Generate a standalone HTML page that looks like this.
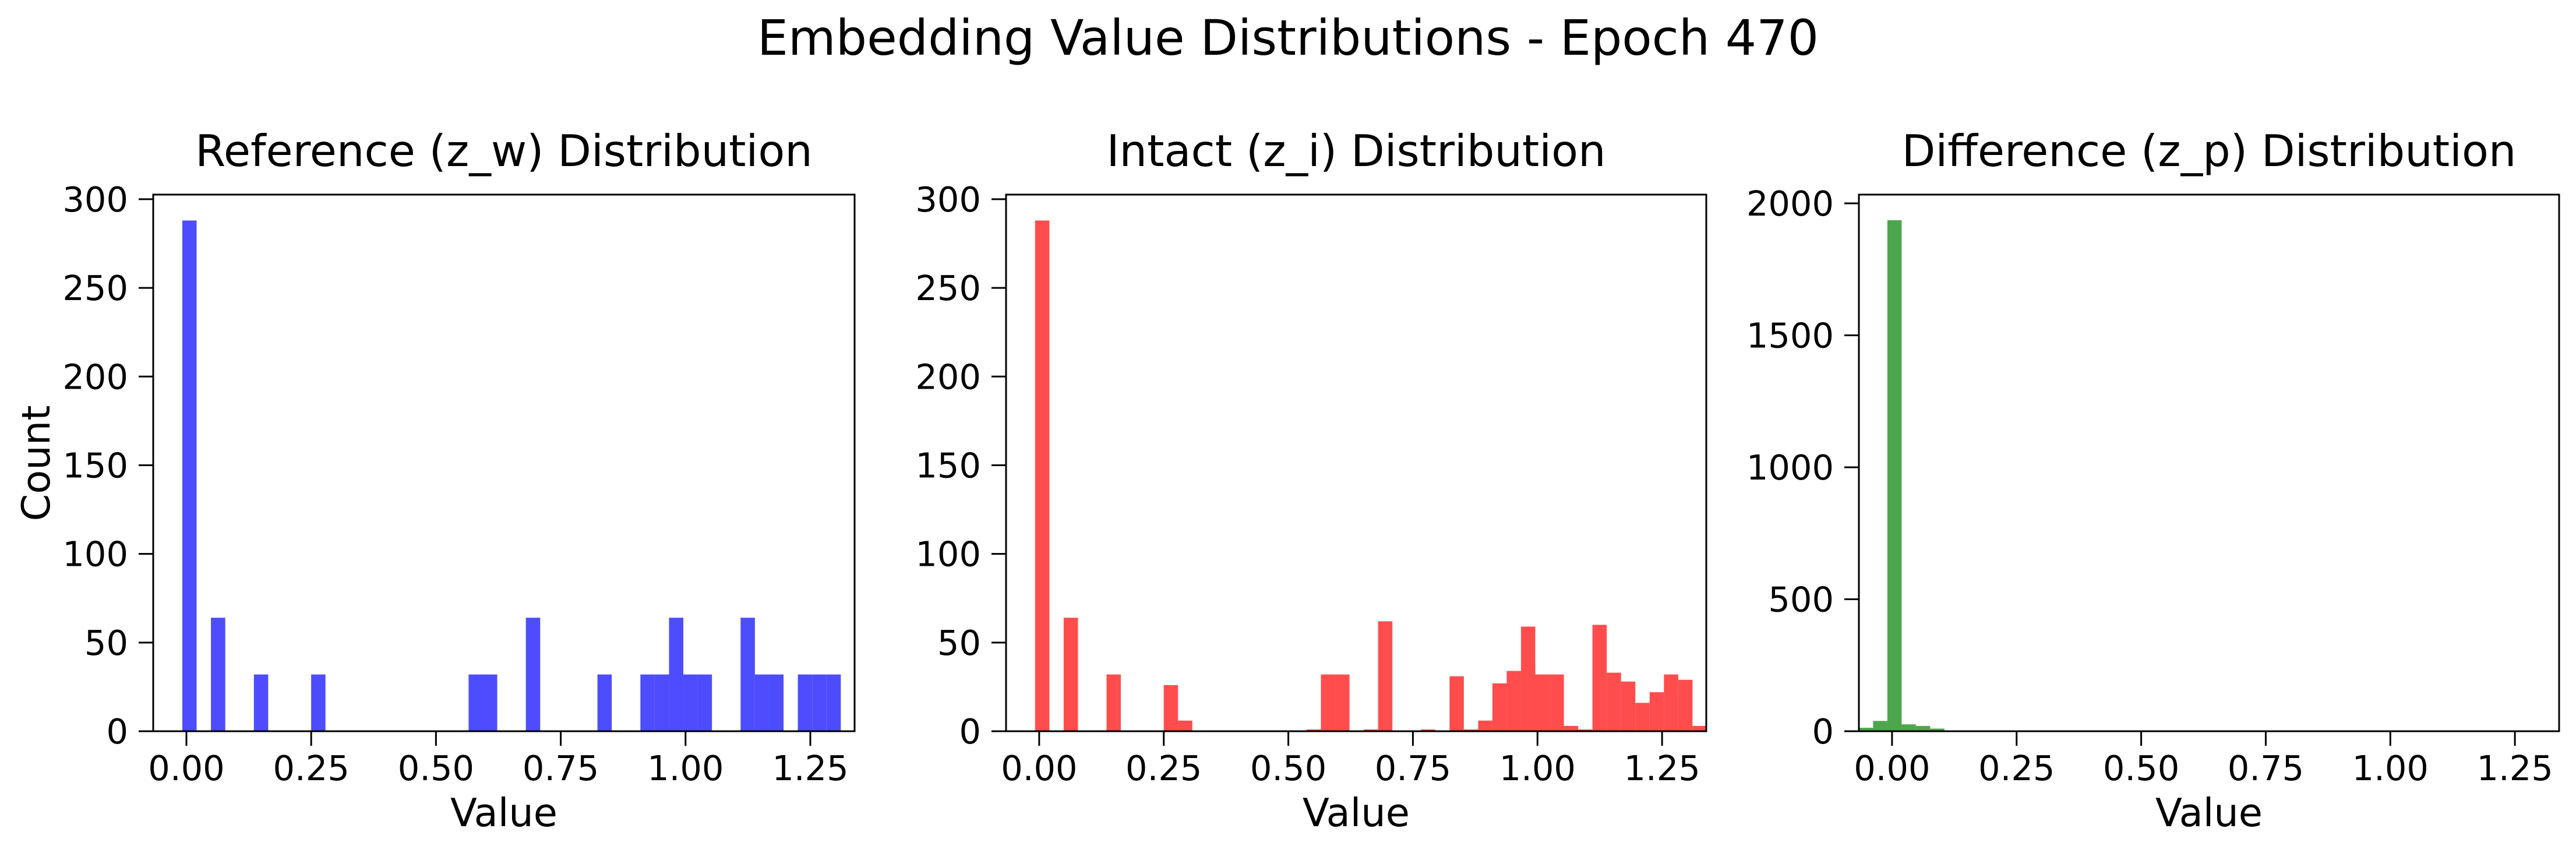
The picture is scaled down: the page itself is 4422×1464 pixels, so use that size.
<!DOCTYPE html>
<html><head><meta charset="utf-8"><style>
html,body{margin:0;padding:0;background:#fff;}
svg{display:block;}
text{font-family:"DejaVu Sans","Liberation Sans",sans-serif;fill:#000;}
</style></head><body>
<svg id="fig" width="4422" height="1464" viewBox="0 0 4422 1464" xmlns="http://www.w3.org/2000/svg">
<rect width="4422" height="1464" fill="#fff"/>
<text x="2211" y="94" font-size="84" text-anchor="middle">Embedding Value Distributions - Epoch 470</text>
</svg>
<script>
const xTickValues = [0, 0.25, 0.5, 0.75, 1.0, 1.25];
const xTickLabels = ["0.00","0.25","0.50","0.75","1.00","1.25"];
const refTitle = "Reference (z_w) Distribution";
const refBinStart = -0.0082;
const refBinWidth = 0.02868;
const refCounts = [288,0,64,0,0,32,0,0,0,32,0,0,0,0,0,0,0,0,0,0,32,32,0,0,64,0,0,0,0,32,0,0,32,32,64,32,32,0,0,64,32,32,0,32,32,32];
const refYTicks = [0,50,100,150,200,250,300];
const intTitle = "Intact (z_i) Distribution";
const intBinStart = -0.0082;
const intBinWidth = 0.02868;
const intCounts = [288,0,64,0,0,32,0,0,0,26,6,0,0,0,0,0,0,0,0,1,32,32,0,1,62,0,0,1,0,31,1,6,27,34,59,32,32,3,1,60,33,28,16,22,32,29,3];
const intYTicks = [0,50,100,150,200,250,300];
const diffTitle = "Difference (z_p) Distribution";
const diffBinStart = -0.0665;
const diffBinWidth = 0.0286;
const diffCounts = [13,39,1936,26,20,10];
const diffYTicks = [0,500,1000,1500,2000];

const svg = document.getElementById('fig');
const NS = 'http://www.w3.org/2000/svg';
function mk(tag, attrs, parent){
  const e = document.createElementNS(NS, tag);
  for (const k in attrs) e.setAttribute(k, attrs[k]);
  (parent||svg).appendChild(e);
  return e;
}
const TOP = 334, BOTTOM = 1255, XMIN = -0.0665, XMAX = 1.3387;

function panel(idx, left, right, title, binStart, binWidth, counts, yTicks, yMax, color, showYLabel, key){
  const g = mk('g', {});
  
  
  const xs = v => left + (v - XMIN) / (XMAX - XMIN) * (right - left);
  const ys = v => BOTTOM - v / yMax * (BOTTOM - TOP);
  const clipId = 'clip' + idx;
  const cp = mk('clipPath', {id: clipId}, g);
  mk('rect', {x:left, y:TOP, width:right-left, height:BOTTOM-TOP}, cp);
  const bars = mk('g', {'clip-path':'url(#'+clipId+')'}, g);
  
  
  counts.forEach((c, i) => {
    if (c <= 0) return;
    const x0 = xs(binStart + i*binWidth), x1 = xs(binStart + (i+1)*binWidth);
    const r = mk('rect', {x:x0, y:ys(c), width:x1-x0, height:BOTTOM-ys(c), fill:color}, bars);
    
    
  });
  const frame = mk('rect', {x:left, y:TOP, width:right-left, height:BOTTOM-TOP, fill:'none', stroke:'#000', 'stroke-width':3}, g);
  
  
  xTickValues.forEach((v, i) => {
    const x = xs(v);
    const t = mk('line', {x1:x, x2:x, y1:BOTTOM, y2:BOTTOM+25, stroke:'#000', 'stroke-width':3}, g);
    
    
    const l = mk('text', {x:x, y:1339, 'font-size':59, 'text-anchor':'middle'}, g);
    l.textContent = xTickLabels[i];
    
    
  });
  yTicks.forEach(v => {
    const y = ys(v);
    const t = mk('line', {x1:left-25, x2:left, y1:y, y2:y, stroke:'#000', 'stroke-width':3}, g);
    
    
    const l = mk('text', {x:left-43, y:y+21, 'font-size':59, 'text-anchor':'end'}, g);
    l.textContent = String(v);
    
    
  });
  const tt = mk('text', {x:(left+right)/2, y:285, 'font-size':75, 'text-anchor':'middle'}, g);
  tt.textContent = title;
  
  
  const xl = mk('text', {x:(left+right)/2, y:1418, 'font-size':67, 'text-anchor':'middle'}, g);
  xl.textContent = 'Value';
  
  
  if (showYLabel){
    const yl = mk('text', {x:0, y:0, 'font-size':67, 'text-anchor':'middle', transform:'translate(85,795) rotate(-90)'}, g);
    yl.textContent = 'Count';
    
    
  }
}
panel(1, 263, 1467, refTitle, refBinStart, refBinWidth, refCounts, refYTicks, 302.6, 'rgb(77,77,255)', true, 'reference');
panel(2, 1727, 2929, intTitle, intBinStart, intBinWidth, intCounts, intYTicks, 302.6, 'rgb(255,77,77)', false, 'intact');
panel(3, 3191, 4393, diffTitle, diffBinStart, diffBinWidth, diffCounts, diffYTicks, 2033, 'rgb(77,166,77)', false, 'difference');
</script>
</body></html>
